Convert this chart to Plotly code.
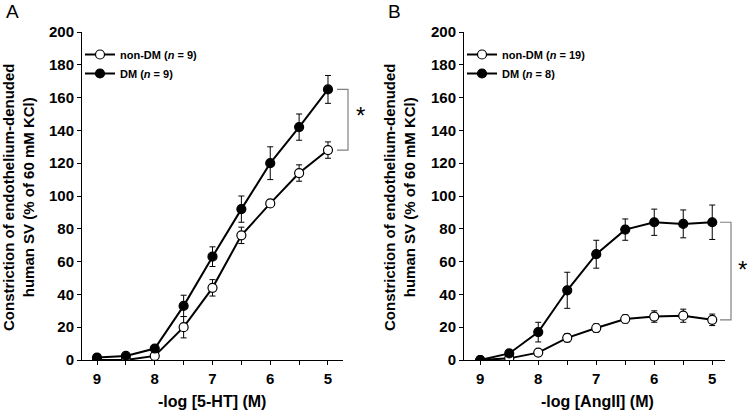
import plotly.graph_objects as go

# ---- data ----
log_conc = [9, 8.5, 8, 7.5, 7, 6.5, 6, 5.5, 5]

a_nondm = [0, 0, 2.5, 20, 44, 76, 95.5, 114, 128]
a_nondm_err = [0, 0, 1, 6.5, 5, 5, 2, 5, 5]
a_dm = [1.5, 2.5, 7, 33, 63, 92, 120, 142, 165]
a_dm_err = [0, 0, 1.5, 6.5, 6, 8, 10, 8, 8.5]

b_nondm = [0, 1, 4.5, 13.5, 19.5, 25, 26.5, 27, 24.5]
b_nondm_err = [0, 0, 0, 2.5, 2.5, 2.5, 3.5, 4, 3.5]
b_dm = [0, 4, 17, 42.5, 64.5, 79.5, 84, 83, 84]
b_dm_err = [0, 0, 6, 11, 8.5, 6.5, 8, 8.5, 10.5]

x_tickvals = [9, 8, 7, 6, 5]
x_ticktext = ["9", "8", "7", "6", "5"]
y_tickvals = [0, 20, 40, 60, 80, 100, 120, 140, 160, 180, 200]

legend_a = ["non-DM (<i>n</i> = 9)", "DM (<i>n</i> = 9)"]
legend_b = ["non-DM (<i>n</i> = 19)", "DM (<i>n</i> = 8)"]
x_titles = ["-log [5-HT] (M)", "-log [AngII] (M)"]
y_title = "Constriction of endothelium-denuded<br>human SV (% of 60 mM KCl)"

FONT = "Liberation Sans, Arial, Helvetica, sans-serif"
W, H = 750, 413

fig = go.Figure()


def add_series(y, err, filled, name, xa, ya, legend):
    fig.add_trace(go.Scatter(
        x=log_conc, y=y, name=name, mode="lines+markers",
        xaxis=xa, yaxis=ya, legend=legend,
        line=dict(color="black", width=2),
        marker=dict(symbol="circle", size=9,
                    color="black" if filled else "white",
                    line=dict(color="black", width=1.2)),
        error_y=dict(type="data", array=err, visible=True,
                     color="black", thickness=1, width=3),
    ))


add_series(a_nondm, a_nondm_err, False, legend_a[0], "x", "y", "legend")
add_series(a_dm, a_dm_err, True, legend_a[1], "x", "y", "legend")
add_series(b_nondm, b_nondm_err, False, legend_b[0], "x2", "y2", "legend2")
add_series(b_dm, b_dm_err, True, legend_b[1], "x2", "y2", "legend2")

ydom = [(H - 360) / H, (H - 32) / H]
xdomA = [82 / W, 343 / W]
xdomB = [464 / W, 725 / W]

tickfont = dict(family=FONT, size=15, color="black", weight="bold")

common_x = dict(
    tickvals=x_tickvals, ticktext=x_ticktext, ticks="outside", ticklen=4,
    tickwidth=1, tickcolor="black", showline=True, linecolor="black",
    linewidth=1, showgrid=False, zeroline=False, tickfont=tickfont,
    minor=dict(dtick=0.5, tick0=5, ticks="outside", ticklen=4,
               tickcolor="black", tickwidth=1, showgrid=False),
    ticklabelstandoff=1, automargin=False,
)
common_y = dict(
    tickvals=y_tickvals, range=[0, 200], ticks="outside", ticklen=4,
    tickwidth=1, tickcolor="black", showline=True, linecolor="black",
    linewidth=1, showgrid=False, zeroline=False, tickfont=tickfont,
    automargin=False,
)

legend_font = dict(family=FONT, size=11, color="black", weight="bold")
fig.update_layout(
    width=W, height=H,
    margin=dict(l=0, r=0, t=0, b=0, pad=0, autoexpand=False),
    paper_bgcolor="white", plot_bgcolor="white",
    xaxis=dict(domain=xdomA, range=[9.26, 4.74], anchor="y", **common_x),
    yaxis=dict(domain=ydom, anchor="x", **common_y),
    xaxis2=dict(domain=xdomB, range=[9.28, 4.78], anchor="y2", **common_x),
    yaxis2=dict(domain=ydom, anchor="x2", **common_y),
    legend=dict(x=80 / W, y=1 - 40 / H, xanchor="left", yanchor="top",
                bgcolor="rgba(0,0,0,0)", tracegroupgap=0, itemwidth=30,
                font=legend_font),
    legend2=dict(x=462 / W, y=1 - 40 / H, xanchor="left", yanchor="top",
                 bgcolor="rgba(0,0,0,0)", tracegroupgap=0, itemwidth=30,
                 font=legend_font),
    showlegend=True,
)

ann_font = dict(family=FONT, size=15, color="black", weight="bold")
annotations = []
# y titles
for xc in (18, 399):
    annotations.append(dict(text=y_title, x=xc / W, y=1 - 198 / H, xref="paper", yref="paper",
                            textangle=-90, showarrow=False, font=ann_font,
                            xanchor="center", yanchor="middle", align="center"))
# x titles
for xc, t in zip((212, 597), x_titles):
    annotations.append(dict(text=t, x=xc / W, y=1 - 401 / H, xref="paper", yref="paper",
                            showarrow=False, xanchor="center", yanchor="middle",
                            font=dict(family=FONT, size=16, color="black", weight="bold")))
# panel letters
for xc, t in zip((12, 395), ("A", "B")):
    annotations.append(dict(text=t, x=xc / W, y=1 - 12 / H, xref="paper", yref="paper",
                            showarrow=False, xanchor="center", yanchor="middle",
                            font=dict(family=FONT, size=19, color="black")))
# asterisks
annotations.append(dict(text="*", x=360 / W, y=(a_dm[-1] + a_nondm[-1]) / 2, xref="paper", yref="y",
                        showarrow=False, xanchor="center", yanchor="middle", yshift=4,
                        font=dict(family=FONT, size=24, color="black")))
annotations.append(dict(text="*", x=742 / W, y=(b_dm[-1] + b_nondm[-1]) / 2, xref="paper", yref="y2",
                        showarrow=False, xanchor="center", yanchor="middle", yshift=2,
                        font=dict(family=FONT, size=24, color="black")))
fig.update_layout(annotations=annotations)

# brackets
shapes = []
gray = "#808080"
for (x0, x1, yref, top, bot) in ((337, 348, "y", a_dm[-1], a_nondm[-1]),
                                 (720, 731, "y2", b_dm[-1], b_nondm[-1])):
    path = (f"M {x0 / W},{top} L {x1 / W},{top} L {x1 / W},{bot} L {x0 / W},{bot}")
    shapes.append(dict(type="path", xref="paper", yref=yref, path=path,
                       line=dict(color=gray, width=1.2)))
fig.update_layout(shapes=shapes)

fig.write_html("out.html", config={"displayModeBar": False},
               post_script="document.body.style.margin='0';document.body.style.overflow='hidden';")
